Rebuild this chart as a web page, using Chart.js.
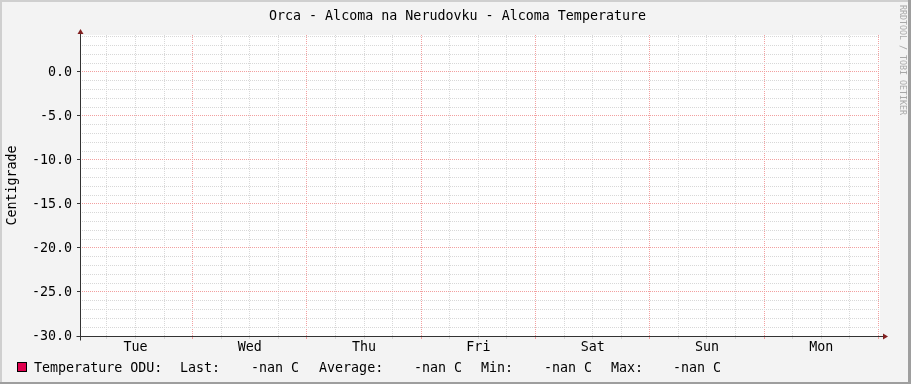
<!DOCTYPE html>
<html>
<head>
<meta charset="utf-8">
<script src="https://cdn.jsdelivr.net/npm/chart.js@4.4.1/dist/chart.umd.min.js"></script>
<style>
    html, body { margin: 0; padding: 0; background: #f3f3f3; }
    #wrap { width: 911px; height: 384px; }
</style>
</head>
<body>
<div id="wrap"><canvas id="temp-chart" width="911" height="384"></canvas></div>
<script>
// week graph, x in hours from Tue 00:00
var dayNames = ['Tue', 'Wed', 'Thu', 'Fri', 'Sat', 'Sun', 'Mon'];
var sampleHours = [0.34, 24, 48, 72, 96, 120, 144, 168.34];
var temperatureOdu = [null, null, null, null, null, null, null, null];  // RRD returned nan everywhere
var statNames = ['Last:', 'Average:', 'Min:', 'Max:'];
var statValues = [NaN, NaN, NaN, NaN];
var yTickLabels = ['0.0', '-5.0', '-10.0', '-15.0', '-20.0', '-25.0', '-30.0'];

var graphTitle = 'Orca - Alcoma na Nerudovku - Alcoma Temperature';
var seriesName = 'Temperature ODU:';
var unit = 'C';

var MONO = '"DejaVu Sans Mono", "Liberation Mono", monospace';
var GRID_MINOR = '#d8d8d8';
var GRID_MAJOR = '#f2a0a0';
var AXIS = '#333333';
var ARROW = '#801f1f';
var SERIES_COLOR = '#e0004e';

function fmtStat(v) {
    return isNaN(v) ? '-nan ' + unit : v.toFixed(2) + ' ' + unit;
}

function tickVal(c) {
    var t = c.scale.ticks[c.index];
    return t ? t.value : NaN;
}

var rrdDecor = {
    id: 'rrdDecor',
    beforeDraw: function (chart) {
        var ctx = chart.ctx, a = chart.chartArea;
        ctx.save();
        ctx.fillStyle = '#f3f3f3';
        ctx.fillRect(0, 0, chart.width, chart.height);
        ctx.fillStyle = '#ffffff';
        ctx.fillRect(a.left, a.top, a.right - a.left, a.bottom - a.top);
        // frame
        ctx.fillStyle = '#cfcfcf';
        ctx.fillRect(0, 0, chart.width, 2);
        ctx.fillRect(0, 0, 2, chart.height);
        ctx.fillStyle = '#9e9e9e';
        ctx.fillRect(0, chart.height - 2, chart.width, 2);
        ctx.fillRect(chart.width - 3, 0, 3, chart.height);
        ctx.restore();
    },
    afterDraw: function (chart) {
        var ctx = chart.ctx, a = chart.chartArea;
        var x0 = Math.round(a.left) + 0.5, y0 = Math.round(a.bottom) + 0.5;
        ctx.save();

        // axes
        ctx.strokeStyle = AXIS;
        ctx.lineWidth = 1;
        ctx.beginPath();
        ctx.moveTo(x0, a.top - 2);
        ctx.lineTo(x0, y0 + 4);
        ctx.moveTo(x0 - 4, y0);
        ctx.lineTo(a.right + 3, y0);
        ctx.stroke();

        // arrows
        ctx.fillStyle = ARROW;
        ctx.beginPath();
        ctx.moveTo(x0, a.top - 6);
        ctx.lineTo(x0 - 3, a.top - 1);
        ctx.lineTo(x0 + 3, a.top - 1);
        ctx.closePath();
        ctx.fill();
        ctx.beginPath();
        ctx.moveTo(a.right + 8, y0);
        ctx.lineTo(a.right + 3, y0 - 3);
        ctx.lineTo(a.right + 3, y0 + 3);
        ctx.closePath();
        ctx.fill();

        // title
        ctx.fillStyle = '#000000';
        ctx.font = '13.33px ' + MONO;
        ctx.textAlign = 'center';
        ctx.textBaseline = 'alphabetic';
        ctx.fillText(graphTitle, 457.5, 19.5);

        // vertical label
        ctx.save();
        ctx.translate(15.7, (a.top + a.bottom) / 2);
        ctx.rotate(-Math.PI / 2);
        ctx.fillText('Centigrade', 0, 0);
        ctx.restore();

        // watermark
        ctx.save();
        ctx.fillStyle = '#a8a8a8';
        ctx.font = '8.3px ' + MONO;
        ctx.textAlign = 'left';
        ctx.translate(899.6, 5);
        ctx.rotate(Math.PI / 2);
        ctx.fillText('RRDTOOL / TOBI OETIKER', 0, 0);
        ctx.restore();

        // legend
        ctx.fillStyle = SERIES_COLOR;
        ctx.fillRect(17, 362, 10, 10);
        ctx.strokeStyle = '#000000';
        ctx.strokeRect(17.5, 362.5, 9, 9);

        ctx.fillStyle = '#000000';
        ctx.textAlign = 'left';
        var by = 371.8;
        ctx.fillText(seriesName, 34, by);
        var nameX = [180, 319, 481, 611];
        var valX = [252, 415, 545, 674];
        for (var i = 0; i < statNames.length; i++) {
            ctx.fillText(statNames[i], nameX[i], by);
            ctx.fillText(fmtStat(statValues[i]), valX[i] - 1, by);
        }
        ctx.restore();
    }
};

var ctx1 = document.getElementById('temp-chart');
var tempChart = new Chart(ctx1.getContext('2d'), {
    type: 'line',
    data: {
        datasets: [{
            label: seriesName,
            data: sampleHours.map(function (h, i) { return { x: h, y: temperatureOdu[i] }; }),
            borderColor: SERIES_COLOR,
            backgroundColor: SERIES_COLOR,
            borderWidth: 1,
            pointRadius: 0,
            spanGaps: false
        }]
    },
    options: {
        responsive: false,
        animation: false,
        events: [],
        layout: { padding: { left: 0, top: 35, right: 31, bottom: 0 } },
        plugins: {
            legend: { display: false },
            title: { display: false },
            tooltip: { enabled: false }
        },
        scales: {
            x: {
                type: 'linear',
                min: sampleHours[0],
                max: sampleHours[sampleHours.length - 1],
                afterFit: function (scale) { scale.height = 48; },
                afterBuildTicks: function (scale) {
                    var t = [];
                    for (var h = 6; h <= 168; h += 6) t.push({ value: h });
                    scale.ticks = t;
                },
                grid: {
                    color: function (c) { return tickVal(c) % 24 === 0 ? GRID_MAJOR : GRID_MINOR; },
                    tickColor: function (c) { return tickVal(c) % 24 === 0 ? GRID_MAJOR : GRID_MINOR; },
                    tickLength: 3,
                    lineWidth: 1
                },
                border: { display: false, dash: [1, 1] },
                ticks: {
                    autoSkip: false,
                    maxRotation: 0,
                    padding: 1,
                    color: '#000000',
                    font: { family: MONO, size: 13.33 },
                    callback: function (v) {
                        return v % 24 === 12 ? dayNames[(v - 12) / 24] : '';
                    }
                }
            },
            y: {
                type: 'linear',
                min: -30,
                max: 4.2,
                afterFit: function (scale) { scale.width = 80; },
                afterBuildTicks: function (scale) {
                    var t = [];
                    for (var v = -30; v <= 4; v++) t.push({ value: v });
                    scale.ticks = t;
                },
                grid: {
                    color: function (c) { return tickVal(c) % 5 === 0 ? GRID_MAJOR : GRID_MINOR; },
                    tickColor: function (c) { return tickVal(c) % 5 === 0 ? AXIS : 'rgba(0,0,0,0)'; },
                    tickLength: 3,
                    lineWidth: 1
                },
                border: { display: false, dash: [1, 1] },
                ticks: {
                    autoSkip: false,
                    padding: 5,
                    labelOffset: 1,
                    color: '#000000',
                    font: { family: MONO, size: 13.33 },
                    callback: function (v) {
                        return v % 5 === 0 ? yTickLabels[-v / 5] : '';
                    }
                }
            }
        }
    },
    plugins: [rrdDecor]
});
</script>
</body>
</html>
